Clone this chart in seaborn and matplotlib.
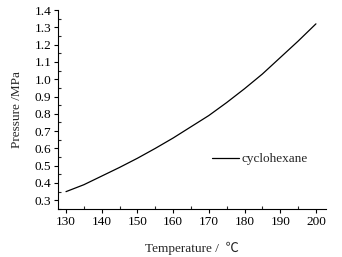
import matplotlib
matplotlib.use("Agg")
import matplotlib.pyplot as plt
import seaborn as sns
import pandas as pd
from matplotlib.ticker import MultipleLocator

# data
temperature = [130, 135, 140, 145, 150, 155, 160, 165, 170, 175, 180, 185, 190, 195, 200]
pressure = [0.35, 0.39, 0.44, 0.49, 0.543, 0.60, 0.66, 0.725, 0.79, 0.865, 0.945, 1.03, 1.125, 1.22, 1.32]
series_name = "cyclohexane"

df = pd.DataFrame({"T": temperature, "P": pressure})

sns.set_theme(style="ticks")
plt.rcParams["font.family"] = ["Liberation Serif", "Noto Sans CJK SC", "DejaVu Sans"]
plt.rcParams["font.size"] = 9.5

fig = plt.figure(figsize=(3.42, 2.57), dpi=100)
ax = fig.add_axes([0.170, 0.187, 0.783, 0.774])

sns.lineplot(data=df, x="T", y="P", color="black", linewidth=0.9, ax=ax, label=series_name)

ax.set_xlim(127.8, 202.8)
ax.set_ylim(0.25, 1.40)
ax.xaxis.set_major_locator(MultipleLocator(10))
ax.xaxis.set_minor_locator(MultipleLocator(5))
ax.yaxis.set_major_locator(MultipleLocator(0.1))
ax.yaxis.set_minor_locator(MultipleLocator(0.05))
ax.yaxis.set_major_formatter(plt.FormatStrFormatter("%.1f"))

ax.tick_params(which="major", direction="out", length=3, width=0.8, labelsize=9.5, pad=2, colors="black")
ax.tick_params(which="minor", direction="in", length=2, width=0.8)
for s in ["left", "bottom"]:
    ax.spines[s].set_linewidth(0.8)
    ax.spines[s].set_color("black")
sns.despine(ax=ax)

ax.set_xlabel("Temperature /  \u2103", fontsize=9.5, labelpad=10)
ax.set_ylabel("Pressure /MPa", fontsize=9.5, labelpad=8)

ax.legend(loc="center left", bbox_to_anchor=(0.575, 0.25), frameon=False,
          fontsize=9.5, handlelength=2.0, handletextpad=0.2,
          borderpad=0, borderaxespad=0)

fig.savefig("out.png", dpi=100)
